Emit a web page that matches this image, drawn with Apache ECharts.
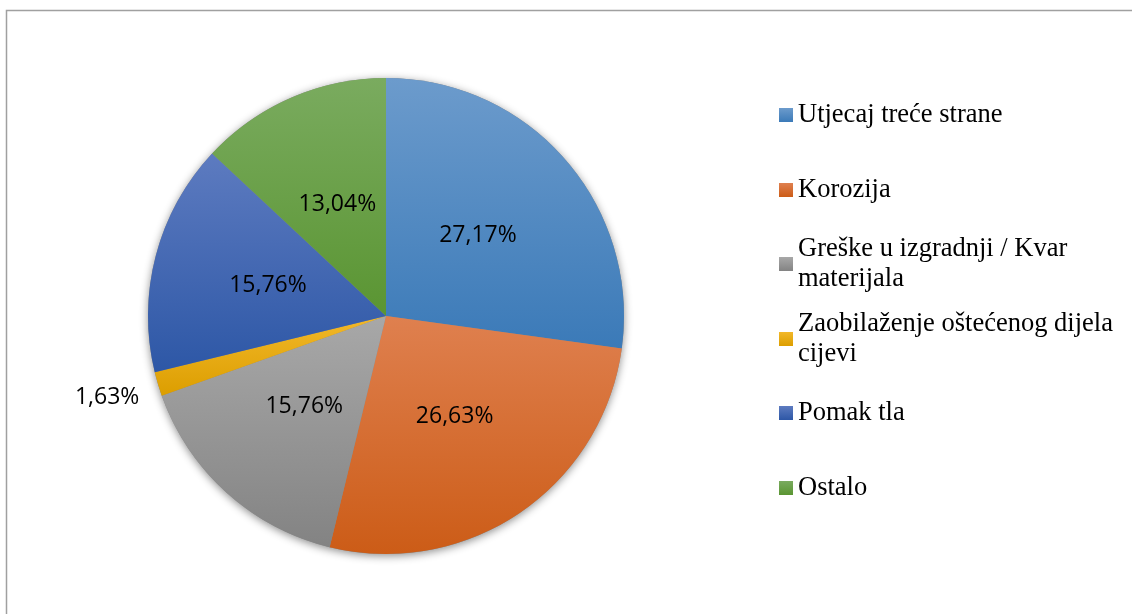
<!DOCTYPE html>
<html>
<head>
<meta charset="utf-8">
<script src="https://cdn.jsdelivr.net/npm/echarts@6/dist/echarts.min.js"></script>
<style>
  html, body { margin: 0; padding: 0; background: #fff; }
  #chart { width: 1132px; height: 614px; }
</style>
</head>
<body>
<div id="chart"></div>
<script>
const categories = [
  'Utjecaj treće strane',
  'Korozija',
  'Greške u izgradnji / Kvar materijala',
  'Zaobilaženje oštećenog dijela cijevi',
  'Pomak tla',
  'Ostalo'
]
const shares = [27.17, 26.63, 15.76, 1.63, 15.76, 13.04]

// top / bottom colour of each slice gradient
const COLORS = [
  ['#6c9bcc', '#3b7ab8'],
  ['#df804f', '#cc5c17'],
  ['#a8a8a8', '#838383'],
  ['#f2b82a', '#dc9e00'],
  ['#5d7bc0', '#2d57a6'],
  ['#7aab5f', '#5a9532'],
]
// y of each legend entry's first line
const legendY = [115, 190, 264, 339, 413, 488]

const chart = echarts.init(document.getElementById('chart'))

const grad = c => new echarts.graphic.LinearGradient(0, 0, 0, 1, [
  { offset: 0, color: c[0] },
  { offset: 1, color: c[1] },
])

// wrap long names after the first 25 chars' worth of words, like Excel does
function wrapName(name) {
  if (name.length <= 25) return name
  const cut = name.lastIndexOf(' ')
  return name.slice(0, cut) + '\n' + name.slice(cut + 1)
}

const legends = categories.map((name, i) => {
  const wrapped = name.length > 25
  return {
    left: 779,
    top: legendY[i] - (wrapped ? 45 : 15),
    orient: 'vertical',
    data: [name],
    icon: 'rect',
    itemWidth: 14,
    itemHeight: 14,
    itemGap: 0,
    padding: 0,
    selectedMode: false,
    formatter: wrapName,
    textStyle: {
      fontFamily: 'Liberation Serif, serif',
      fontSize: 26.5,
      color: '#000',
      lineHeight: 30,
      padding: wrapped ? [30, 0, 0, 0] : 0,
    },
  }
})

chart.setOption({
  animation: false,
  graphic: [{
    type: 'rect',
    shape: { x: 6.5, y: 10.5, width: 2000, height: 2000 },
    style: { fill: 'none', stroke: '#a0a0a0', lineWidth: 1.5 },
    silent: true,
  }],
  legend: legends,
  series: [
    {
      type: 'pie',
      silent: true,
      center: [386, 316],
      radius: 238,
      z: 1,
      label: { show: false },
      labelLine: { show: false },
      itemStyle: {
        color: '#888',
        shadowBlur: 8,
        shadowOffsetY: 2,
        shadowColor: 'rgba(0,0,0,0.45)',
      },
      data: [{ value: 1, name: '' }],
    },
    {
      type: 'pie',
      center: [386, 316],
      radius: 238,
      z: 2,
      startAngle: 90,
      clockwise: true,
      avoidLabelOverlap: false,
      itemStyle: { borderWidth: 0 },
      label: {
        position: 'inside',
        fontFamily: 'Open Sans',
        fontSize: 23,
        color: '#000',
        formatter: p => p.value.toFixed(2).replace('.', ',') + '%',
      },
      labelLine: { show: false, length: 10, length2: 0 },
      labelLayout: p => (p.dataIndex === 3 ? { dy: 11 } : {}),
      data: categories.map((name, i) => ({
        name,
        value: shares[i],
        itemStyle: { color: grad(COLORS[i]) },
        label: shares[i] < 5
          ? { position: 'outside', distanceToLabelLine: 9 }
          : undefined,
      })),
    },
  ],
})
</script>
</body>
</html>
